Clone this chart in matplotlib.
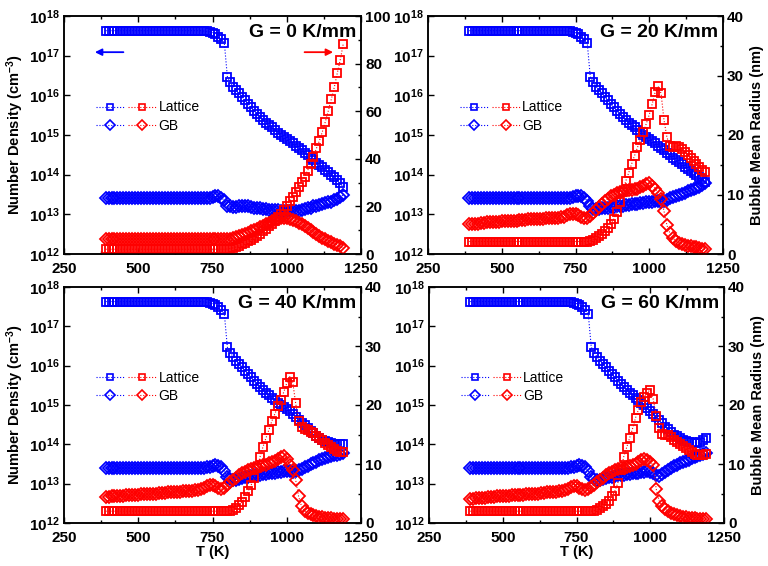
import numpy as np
import matplotlib
matplotlib.use("Agg")
import matplotlib.pyplot as plt
from matplotlib.lines import Line2D
from matplotlib.legend_handler import HandlerTuple
from matplotlib.ticker import FuncFormatter, MultipleLocator, FixedLocator

plt.rcParams['font.family'] = ['Liberation Sans', 'DejaVu Sans']
plt.rcParams['mathtext.fontset'] = 'custom'
plt.rcParams['mathtext.rm'] = 'Liberation Sans:bold'
plt.rcParams['mathtext.bf'] = 'Liberation Sans:bold'
plt.rcParams['mathtext.it'] = 'Liberation Sans:bold:italic'

# ---------------- data ----------------
T = np.arange(390, 1191, 10)  # K

gradients = [0, 20, 40, 60]

# log10 of lattice bubble number density (cm^-3)
lat_dens_log_g0 = [
    17.63, 17.63, 17.63, 17.63, 17.63, 17.63, 17.63, 17.63, 17.63, 17.63,
    17.63, 17.63, 17.63, 17.63, 17.63, 17.63, 17.63, 17.63, 17.63, 17.63,
    17.63, 17.63, 17.63, 17.63, 17.63, 17.63, 17.63, 17.63, 17.63, 17.63,
    17.63, 17.63, 17.63, 17.62, 17.61, 17.60, 17.58, 17.54, 17.48, 17.41,
    17.31, 16.47, 16.33, 16.22, 16.13, 16.05, 15.96, 15.87, 15.78, 15.70,
    15.61, 15.53, 15.45, 15.38, 15.31, 15.25, 15.19, 15.13, 15.06, 15.00,
    14.94, 14.89, 14.84, 14.79, 14.73, 14.68, 14.62, 14.55, 14.49, 14.43,
    14.36, 14.30, 14.25, 14.19, 14.12, 14.06, 14.00, 13.94, 13.87, 13.78,
    13.70]
lat_dens_log_g20 = [
    17.63, 17.63, 17.63, 17.63, 17.63, 17.63, 17.63, 17.63, 17.63, 17.63,
    17.63, 17.63, 17.63, 17.63, 17.63, 17.63, 17.63, 17.63, 17.63, 17.63,
    17.63, 17.63, 17.63, 17.63, 17.63, 17.63, 17.63, 17.63, 17.63, 17.63,
    17.63, 17.63, 17.63, 17.62, 17.61, 17.60, 17.58, 17.54, 17.48, 17.41,
    17.31, 16.47, 16.33, 16.22, 16.13, 16.05, 15.96, 15.87, 15.78, 15.70,
    15.61, 15.53, 15.45, 15.38, 15.31, 15.25, 15.19, 15.13, 15.06, 15.00,
    14.95, 14.90, 14.85, 14.79, 14.73, 14.67, 14.62, 14.55, 14.49, 14.43,
    14.37, 14.31, 14.26, 14.20, 14.14, 14.09, 14.04, 13.99, 13.94, 13.88,
    13.82]
lat_dens_log_g40 = [
    17.63, 17.63, 17.63, 17.63, 17.63, 17.63, 17.63, 17.63, 17.63, 17.63,
    17.63, 17.63, 17.63, 17.63, 17.63, 17.63, 17.63, 17.63, 17.63, 17.63,
    17.63, 17.63, 17.63, 17.63, 17.63, 17.63, 17.63, 17.63, 17.63, 17.63,
    17.63, 17.63, 17.63, 17.62, 17.61, 17.60, 17.58, 17.54, 17.48, 17.41,
    17.31, 16.47, 16.33, 16.22, 16.13, 16.05, 15.96, 15.87, 15.78, 15.70,
    15.61, 15.53, 15.45, 15.38, 15.31, 15.25, 15.19, 15.13, 15.06, 15.00,
    14.95, 14.90, 14.84, 14.77, 14.70, 14.62, 14.55, 14.48, 14.41, 14.34,
    14.28, 14.22, 14.17, 14.12, 14.08, 14.05, 14.03, 14.02, 14.01, 14.00,
    14.00]
lat_dens_log_g60 = [
    17.63, 17.63, 17.63, 17.63, 17.63, 17.63, 17.63, 17.63, 17.63, 17.63,
    17.63, 17.63, 17.63, 17.63, 17.63, 17.63, 17.63, 17.63, 17.63, 17.63,
    17.63, 17.63, 17.63, 17.63, 17.63, 17.63, 17.63, 17.63, 17.63, 17.63,
    17.63, 17.63, 17.63, 17.62, 17.61, 17.60, 17.58, 17.54, 17.48, 17.41,
    17.31, 16.47, 16.33, 16.22, 16.13, 16.05, 15.96, 15.87, 15.78, 15.70,
    15.61, 15.53, 15.45, 15.38, 15.31, 15.25, 15.19, 15.13, 15.06, 15.00,
    14.93, 14.86, 14.78, 14.70, 14.62, 14.53, 14.45, 14.38, 14.31, 14.25,
    14.20, 14.16, 14.12, 14.09, 14.07, 14.05, 14.04, 14.04, 14.06, 14.10,
    14.15]

# log10 of grain-boundary bubble number density (cm^-3)
gb_dens_log_g0 = [
    13.40, 13.40, 13.40, 13.40, 13.40, 13.40, 13.40, 13.40, 13.40, 13.40,
    13.40, 13.40, 13.40, 13.40, 13.40, 13.40, 13.40, 13.40, 13.40, 13.40,
    13.40, 13.40, 13.40, 13.40, 13.40, 13.40, 13.40, 13.40, 13.40, 13.40,
    13.40, 13.40, 13.40, 13.40, 13.41, 13.42, 13.44, 13.45, 13.45, 13.42,
    13.35, 13.22, 13.20, 13.19, 13.19, 13.20, 13.22, 13.22, 13.21, 13.19,
    13.17, 13.16, 13.15, 13.14, 13.13, 13.12, 13.11, 13.10, 13.10, 13.09,
    13.09, 13.08, 13.08, 13.08, 13.08, 13.09, 13.11, 13.13, 13.15, 13.17,
    13.20, 13.22, 13.24, 13.26, 13.28, 13.30, 13.32, 13.35, 13.39, 13.44,
    13.49]
gb_dens_log_g20 = [
    13.40, 13.40, 13.40, 13.40, 13.40, 13.40, 13.40, 13.40, 13.40, 13.40,
    13.40, 13.40, 13.40, 13.40, 13.40, 13.40, 13.40, 13.40, 13.40, 13.40,
    13.40, 13.40, 13.40, 13.40, 13.40, 13.40, 13.40, 13.40, 13.40, 13.40,
    13.40, 13.40, 13.40, 13.41, 13.42, 13.43, 13.46, 13.47, 13.46, 13.42,
    13.34, 13.20, 13.14, 13.13, 13.14, 13.15, 13.16, 13.17, 13.18, 13.19,
    13.20, 13.21, 13.22, 13.23, 13.24, 13.25, 13.26, 13.27, 13.28, 13.29,
    13.30, 13.31, 13.32, 13.33, 13.33, 13.32, 13.34, 13.37, 13.40, 13.43,
    13.46, 13.49, 13.52, 13.55, 13.58, 13.61, 13.64, 13.67, 13.70, 13.74,
    13.78]
gb_dens_log_g40 = [
    13.40, 13.40, 13.40, 13.40, 13.40, 13.40, 13.40, 13.40, 13.40, 13.40,
    13.40, 13.40, 13.40, 13.40, 13.40, 13.40, 13.40, 13.40, 13.40, 13.40,
    13.40, 13.40, 13.40, 13.40, 13.40, 13.40, 13.40, 13.40, 13.40, 13.40,
    13.40, 13.40, 13.40, 13.41, 13.42, 13.43, 13.46, 13.47, 13.46, 13.42,
    13.32, 13.18, 13.12, 13.10, 13.10, 13.12, 13.14, 13.16, 13.18, 13.20,
    13.21, 13.22, 13.23, 13.24, 13.25, 13.26, 13.27, 13.28, 13.29, 13.30,
    13.31, 13.32, 13.31, 13.30, 13.31, 13.34, 13.38, 13.42, 13.46, 13.50,
    13.53, 13.56, 13.59, 13.62, 13.65, 13.67, 13.70, 13.72, 13.74, 13.76,
    13.78]
gb_dens_log_g60 = [
    13.40, 13.40, 13.40, 13.40, 13.40, 13.40, 13.40, 13.40, 13.40, 13.40,
    13.40, 13.40, 13.40, 13.40, 13.40, 13.40, 13.40, 13.40, 13.40, 13.40,
    13.40, 13.40, 13.40, 13.40, 13.40, 13.40, 13.40, 13.40, 13.40, 13.40,
    13.40, 13.40, 13.40, 13.41, 13.42, 13.43, 13.46, 13.47, 13.46, 13.42,
    13.32, 13.18, 13.12, 13.10, 13.10, 13.12, 13.14, 13.16, 13.18, 13.20,
    13.21, 13.22, 13.23, 13.24, 13.25, 13.26, 13.27, 13.28, 13.29, 13.30,
    13.31, 13.30, 13.27, 13.22, 13.20, 13.24, 13.30, 13.35, 13.40, 13.44,
    13.48, 13.52, 13.55, 13.58, 13.61, 13.64, 13.67, 13.70, 13.73, 13.76,
    13.79]

# lattice bubble mean radius (nm)
lat_rad_g0 = [
    2.0, 2.0, 2.0, 2.0, 2.0, 2.0, 2.0, 2.0, 2.0, 2.0,
    2.0, 2.0, 2.0, 2.0, 2.0, 2.0, 2.0, 2.0, 2.0, 2.0,
    2.0, 2.0, 2.0, 2.0, 2.0, 2.0, 2.0, 2.0, 2.0, 2.0,
    2.0, 2.0, 2.0, 2.0, 2.0, 2.0, 2.0, 2.0, 2.0, 2.0,
    2.0, 2.1, 2.3, 2.6, 3.0, 3.5, 4.0, 4.6, 5.3, 6.0,
    6.8, 7.6, 8.5, 9.5, 10.5, 11.6, 12.8, 14.0, 15.5, 17.0,
    18.5, 20.2, 22.3, 24.1, 26.2, 28.3, 30.4, 32.5, 35.0, 37.8,
    40.9, 44.4, 47.6, 51.4, 55.6, 60.2, 65.0, 70.0, 75.9, 81.5,
    88.1]
lat_rad_g20 = [
    2.1, 2.1, 2.1, 2.1, 2.1, 2.1, 2.1, 2.1, 2.1, 2.1,
    2.1, 2.1, 2.1, 2.1, 2.1, 2.1, 2.1, 2.1, 2.1, 2.1,
    2.1, 2.1, 2.1, 2.1, 2.1, 2.1, 2.1, 2.1, 2.1, 2.1,
    2.1, 2.1, 2.1, 2.1, 2.1, 2.1, 2.1, 2.1, 2.1, 2.1,
    2.1, 2.2, 2.4, 2.7, 3.0, 3.4, 3.8, 4.4, 5.0, 5.9,
    7.1, 8.7, 10.5, 12.2, 13.6, 15.1, 16.5, 17.9, 19.2, 20.5,
    21.9, 23.4, 25.2, 27.2, 28.2, 27.0, 22.5, 19.6, 18.2, 18.0,
    18.1, 17.9, 17.6, 17.2, 16.7, 16.2, 15.7, 15.2, 14.7, 14.2,
    13.8]
lat_rad_g40 = [
    2.0, 2.0, 2.0, 2.0, 2.0, 2.0, 2.0, 2.0, 2.0, 2.0,
    2.0, 2.0, 2.0, 2.0, 2.0, 2.0, 2.0, 2.0, 2.0, 2.0,
    2.0, 2.0, 2.0, 2.0, 2.0, 2.0, 2.0, 2.0, 2.0, 2.0,
    2.0, 2.0, 2.0, 2.0, 2.0, 2.0, 2.0, 2.0, 2.0, 2.0,
    2.0, 2.0, 2.1, 2.2, 2.6, 3.1, 3.6, 4.4, 5.4, 6.4,
    7.6, 9.3, 11.2, 12.9, 14.4, 15.8, 17.3, 18.5, 19.8, 20.9,
    22.2, 23.7, 24.8, 23.9, 20.3, 17.3, 16.3, 16.0, 15.8, 15.5,
    15.2, 14.8, 14.4, 14.0, 13.6, 13.2, 12.8, 12.5, 12.2, 12.1,
    12.1]
lat_rad_g60 = [
    2.0, 2.0, 2.0, 2.0, 2.0, 2.0, 2.0, 2.0, 2.0, 2.0,
    2.0, 2.0, 2.0, 2.0, 2.0, 2.0, 2.0, 2.0, 2.0, 2.0,
    2.0, 2.0, 2.0, 2.0, 2.0, 2.0, 2.0, 2.0, 2.0, 2.0,
    2.0, 2.0, 2.0, 2.0, 2.0, 2.0, 2.0, 2.0, 2.0, 2.0,
    2.0, 2.0, 2.1, 2.2, 2.5, 2.9, 3.3, 3.8, 4.5, 5.4,
    6.8, 9.0, 11.2, 12.8, 14.4, 16.0, 17.8, 19.2, 20.5, 21.4,
    22.1, 22.6, 21.0, 18.2, 16.1, 15.1, 15.0, 14.9, 14.5, 14.1,
    13.7, 13.4, 13.0, 12.7, 12.3, 12.0, 11.7, 11.6, 11.5, 11.6,
    11.7]

# grain-boundary bubble mean radius (nm)
gb_rad_g0 = [
    6.2, 6.2, 6.2, 6.2, 6.2, 6.2, 6.2, 6.2, 6.2, 6.2,
    6.2, 6.2, 6.2, 6.2, 6.2, 6.2, 6.2, 6.2, 6.2, 6.2,
    6.2, 6.2, 6.2, 6.2, 6.2, 6.2, 6.2, 6.2, 6.2, 6.2,
    6.2, 6.2, 6.3, 6.3, 6.3, 6.3, 6.3, 6.3, 6.3, 6.2,
    6.1, 6.1, 6.3, 6.6, 7.0, 7.4, 7.9, 8.4, 8.9, 9.5,
    10.1, 10.7, 11.3, 11.9, 12.5, 13.1, 13.7, 14.2, 14.7, 15.0,
    15.1, 15.0, 14.7, 14.3, 13.7, 13.1, 12.4, 11.6, 10.8, 10.0,
    9.2, 8.4, 7.6, 6.9, 6.2, 5.6, 5.0, 4.4, 3.8, 3.2,
    2.5]
gb_rad_g20 = [
    5.0, 5.0, 5.1, 5.1, 5.2, 5.2, 5.3, 5.3, 5.4, 5.4,
    5.4, 5.5, 5.5, 5.5, 5.6, 5.6, 5.6, 5.7, 5.7, 5.7,
    5.8, 5.8, 5.8, 5.9, 5.9, 5.9, 6.0, 6.0, 6.0, 6.1,
    6.1, 6.2, 6.3, 6.5, 6.7, 6.8, 6.8, 6.6, 6.2, 6.0,
    6.1, 6.4, 6.9, 7.4, 7.9, 8.4, 8.9, 9.3, 9.7, 10.0,
    10.3, 10.5, 10.6, 10.7, 10.8, 10.8, 10.9, 11.0, 11.2, 11.5,
    11.8, 11.9, 11.5, 11.0, 10.3, 9.3, 7.2, 4.8, 3.5, 2.7,
    2.2, 1.9, 1.7, 1.5, 1.4, 1.3, 1.2, 1.1, 1.0, 0.9,
    0.8]
gb_rad_g40 = [
    4.4, 4.4, 4.5, 4.5, 4.6, 4.6, 4.6, 4.7, 4.7, 4.8,
    4.8, 4.8, 4.9, 4.9, 4.9, 5.0, 5.0, 5.0, 5.1, 5.1,
    5.1, 5.2, 5.2, 5.2, 5.3, 5.3, 5.4, 5.4, 5.5, 5.5,
    5.6, 5.6, 5.8, 6.0, 6.3, 6.5, 6.5, 6.2, 5.9, 5.8,
    6.0, 6.4, 6.9, 7.3, 7.7, 8.1, 8.4, 8.7, 8.9, 9.1,
    9.3, 9.5, 9.6, 9.8, 9.9, 10.1, 10.3, 10.5, 10.8, 11.2,
    11.3, 10.8, 9.9, 9.0, 7.3, 4.5, 2.8, 2.1, 1.7, 1.5,
    1.3, 1.2, 1.1, 1.0, 0.9, 0.8, 0.8, 0.7, 0.7, 0.6,
    0.6]
gb_rad_g60 = [
    4.1, 4.1, 4.2, 4.2, 4.3, 4.3, 4.4, 4.4, 4.4, 4.5,
    4.5, 4.6, 4.6, 4.6, 4.7, 4.7, 4.8, 4.8, 4.8, 4.9,
    4.9, 5.0, 5.0, 5.0, 5.1, 5.1, 5.2, 5.2, 5.3, 5.3,
    5.4, 5.4, 5.6, 5.8, 6.1, 6.3, 6.3, 6.0, 5.7, 5.6,
    5.8, 6.1, 6.5, 6.9, 7.3, 7.7, 8.1, 8.4, 8.7, 8.9,
    9.1, 9.3, 9.4, 9.5, 9.6, 9.8, 10.0, 10.3, 10.6, 10.9,
    10.7, 10.3, 9.8, 5.8, 3.8, 2.9, 2.4, 2.0, 1.7, 1.5,
    1.3, 1.2, 1.1, 1.0, 0.9, 0.8, 0.8, 0.7, 0.7, 0.7,
    0.6]

lat_dens_log = [lat_dens_log_g0, lat_dens_log_g20, lat_dens_log_g40, lat_dens_log_g60]
gb_dens_log = [gb_dens_log_g0, gb_dens_log_g20, gb_dens_log_g40, gb_dens_log_g60]
lat_rad = [lat_rad_g0, lat_rad_g20, lat_rad_g40, lat_rad_g60]
gb_rad = [gb_rad_g0, gb_rad_g20, gb_rad_g40, gb_rad_g60]
radius_max = [100, 40, 40, 40]
radius_major = [20, 10, 10, 10]

panel_titles = ['G = 0 K/mm', 'G = 20 K/mm', 'G = 40 K/mm', 'G = 60 K/mm']
x_ticks = [250, 500, 750, 1000, 1250]
legend_labels = ['Lattice', 'GB']

# ---------------- figure ----------------
W, H = 768, 566
fig = plt.figure(figsize=(W / 100, H / 100), dpi=100)

boxes = [(64, 361, 16, 254), (428, 723, 16, 254),
         (64, 361, 287, 523), (429, 724, 287, 523)]

BLUE = '#0000ff'
RED = '#ff0000'
TICK_FS = 11
LABEL_FS = 10.5

def logfmt(v, pos):
    e = int(round(np.log10(v)))
    return r'$10^{%d}$' % e

for k in range(4):
    l, r, t, b = boxes[k]
    ax = fig.add_axes([l / W, (H - b) / H, (r - l) / W, (b - t) / H])
    ax2 = ax.twinx()

    ax.set_yscale('log')
    ax.set_ylim(1e12, 1e18)
    ax.set_xlim(250, 1250)
    ax2.set_ylim(0, radius_max[k])

    mk = dict(markerfacecolor='none', markeredgewidth=1.3, linestyle=':', linewidth=0.8)
    ax.plot(T, 10 ** np.array(lat_dens_log[k]), color=BLUE, marker='s', markersize=5.8, **mk)
    ax.plot(T, 10 ** np.array(gb_dens_log[k]), color=BLUE, marker='D', markersize=5.8, **mk)
    ax2.plot(T, lat_rad[k], color=RED, marker='s', markersize=5.8, **mk)
    ax2.plot(T, gb_rad[k], color=RED, marker='D', markersize=5.8, **mk)

    # ticks
    ax.xaxis.set_major_locator(FixedLocator(x_ticks))
    ax.xaxis.set_minor_locator(MultipleLocator(125))
    ax.yaxis.set_major_locator(FixedLocator([10.0 ** e for e in range(12, 19)]))
    ax.yaxis.set_minor_locator(FixedLocator([]))
    ax.yaxis.set_major_formatter(FuncFormatter(logfmt))
    ax2.yaxis.set_major_locator(MultipleLocator(radius_major[k]))
    ax2.yaxis.set_minor_locator(MultipleLocator(radius_major[k] / 2))

    ax.tick_params(axis='both', which='both', direction='in', top=True, right=False,
                   labelsize=TICK_FS, width=1.0)
    ax.tick_params(which='major', length=4)
    ax.tick_params(which='minor', length=2.5)
    ax.tick_params(axis='x', which='major', pad=6)
    ax.tick_params(axis='y', which='major', pad=3)
    ax2.tick_params(axis='y', which='both', direction='in', labelsize=TICK_FS, width=1.0)
    ax2.tick_params(which='major', length=4, pad=3)
    ax2.tick_params(which='minor', length=2.5)
    for lab in ax.get_xticklabels() + ax2.get_yticklabels():
        lab.set_fontweight('bold')
    for a in (ax, ax2):
        for s in a.spines.values():
            s.set_linewidth(1.1)

    if k % 2 == 0:
        ax.set_ylabel('Number Density (cm$^{-3}$)', fontsize=LABEL_FS, fontweight='bold', labelpad=2)
    else:
        ax2.set_ylabel('Bubble Mean Radius (nm)', fontsize=LABEL_FS, fontweight='bold', labelpad=4)
    if k >= 2:
        ax.set_xlabel('T (K)', fontsize=LABEL_FS, fontweight='bold', labelpad=0)

    ax.text(0.985, 0.965, panel_titles[k], transform=ax.transAxes, ha='right', va='top',
            fontsize=14, fontweight='bold')

    # legend
    lg = dict(markerfacecolor='none', markeredgewidth=1.2, linestyle=':', linewidth=0.8)
    h_bs = Line2D([], [], color=BLUE, marker='s', markersize=5, **lg)
    h_rs = Line2D([], [], color=RED, marker='s', markersize=5, **lg)
    h_bd = Line2D([], [], color=BLUE, marker='D', markersize=5.5, **lg)
    h_rd = Line2D([], [], color=RED, marker='D', markersize=5.5, **lg)
    leg = ax2.legend([(h_bs, h_rs), (h_bd, h_rd)], legend_labels,
                     handler_map={tuple: HandlerTuple(ndivide=None, pad=0.3)},
                     loc='upper left', bbox_to_anchor=(0.108, 0.645), frameon=False,
                     fontsize=10, handlelength=4.3, handletextpad=0.2, labelspacing=0.3,
                     borderpad=0, borderaxespad=0, numpoints=1)

    if k == 0:
        ax.annotate('', xy=(0.104, 0.848), xytext=(0.2, 0.848), xycoords='axes fraction',
                    arrowprops=dict(arrowstyle='-|>', color=BLUE, lw=1.3,
                                    mutation_scale=10, shrinkA=0, shrinkB=0))
        ax.annotate('', xy=(0.906, 0.848), xytext=(0.81, 0.848), xycoords='axes fraction',
                    arrowprops=dict(arrowstyle='-|>', color=RED, lw=1.3,
                                    mutation_scale=10, shrinkA=0, shrinkB=0))

fig.savefig('out.png', dpi=100)
